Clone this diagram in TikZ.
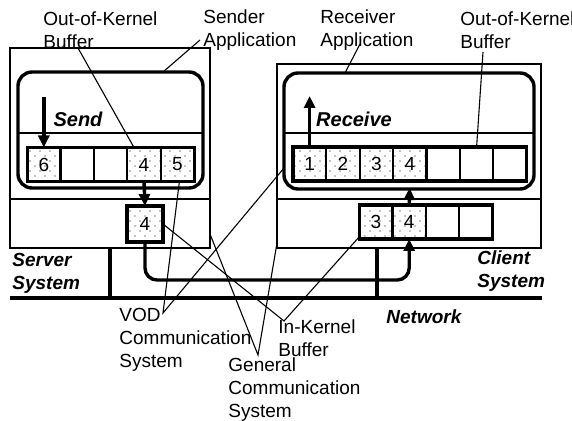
\documentclass[tikz,border=0pt]{standalone}
\usepackage{fontspec}
\setmainfont{Liberation Sans}
\usetikzlibrary{arrows.meta,positioning,fit,patterns}
\pgfdeclarepatternformonly{sparsedots}{\pgfqpoint{-1pt}{-1pt}}{\pgfqpoint{4pt}{4pt}}{\pgfqpoint{5pt}{5pt}}{%
  \pgfpathcircle{\pgfqpoint{0pt}{0pt}}{.35pt}%
  \pgfpathcircle{\pgfqpoint{2.5pt}{2.5pt}}{.35pt}%
  \pgfusepath{fill}}
\begin{document}
\begin{tikzpicture}[x=0.5pt,y=-0.5pt,
  font=\fontsize{9.5}{11.5}\selectfont, >={Triangle[length=6pt,width=5.5pt]},
  cell/.style={draw,line width=1.1pt,minimum width=16.7pt,minimum height=17pt,inner sep=0pt,outer sep=0pt},
  dcell/.style={cell,pattern=sparsedots},
  row/.style={draw,line width=1.6pt,inner sep=0pt,outer sep=0pt},
  frame/.style={draw,line width=1.4pt}, appbox/.style={draw,line width=1.7pt,rounded corners=7pt},
  flow/.style={->,line width=1.7pt}, wire/.style={line width=1.7pt},
  lead/.style={line width=0.55pt},
  lbl/.style={align=left,anchor=west,inner sep=0pt},
  sys/.style={lbl,font=\fontsize{9.5}{11.5}\selectfont\bfseries\itshape}]
\useasboundingbox (0,0) rectangle (572,421);
% server system
\draw[frame] (10,48) rectangle (210,248);
\draw[frame] (10,199) -- (210,199);
\draw[appbox] (18,72) rectangle (203,188);
\draw[frame] (18,133) -- (203,133);
\node[dcell] (s1) at (43.8,164.5) {6};
\node[cell,right=0pt of s1] (s2) {};
\node[cell,right=0pt of s2] (s3) {};
\node[dcell,right=0pt of s3] (s4) {4};
\node[dcell,right=0pt of s4] (s5) {5};
\node[row,fit=(s1)(s5)] (sbuf) {};
\node[dcell,line width=1.8pt,minimum width=18pt,minimum height=18pt] (sk) at (145,224) {4};
% client system
\draw[frame] (277,64) rectangle (541,248);
\draw[frame] (277,199) -- (541,199);
\draw[appbox] (284,73) rectangle (534,189);
\draw[frame] (284,133) -- (534,133);
\node[dcell] (c1) at (309.6,164) {1};
\node[dcell,right=0pt of c1] (c2) {2};
\node[dcell,right=0pt of c2] (c3) {3};
\node[dcell,right=0pt of c3] (c4) {4};
\node[cell,right=0pt of c4] (c5) {};
\node[cell,right=0pt of c5] (c6) {};
\node[cell,right=0pt of c6] (c7) {};
\node[row,fit=(c1)(c7)] (cbuf) {};
\node[dcell] (k1) at (375.8,222) {3};
\node[dcell,right=0pt of k1] (k2) {4};
\node[cell,right=0pt of k2] (k3) {};
\node[cell,right=0pt of k3] (k4) {};
\node[row,fit=(k1)(k4)] (kbuf) {};
% network
\coordinate (netL) at (10,298); \coordinate (netR) at (542,298);
\coordinate (sendtop) at (43.8,97); \coordinate (recvtop) at (309.6,96);
\draw[line width=2.2pt] (netL) -- (netR);
\draw[wire] (110,248) -- (110,298);
\draw[wire] (377,248) -- (377,298);
\draw[flow] (sendtop) -- (s1.north);
\draw[flow] (c1.north) -- (recvtop);
\draw[flow] (s4.south) -- (sk.north);
\draw[flow,rounded corners=6pt] (sk.south) -- ++(0,38) -| (k2.south);
\draw[flow,shorten >=3.5pt] (k2.north) -- (c4.south);
\node[font=\bfseries\itshape] (send) at (78,119) {Send};
\node[font=\bfseries\itshape] (recv) at (354,119) {Receive};
% labels
\node[lbl] (okbL) at (43,30) {Out-of-Kernel\\Buffer};
\node[lbl] (sapp) at (203,30) {Sender\\Application};
\node[lbl] (rapp) at (320,30) {Receiver\\Application};
\node[lbl] (okbR) at (460,30) {Out-of-Kernel\\Buffer};
\node[sys] (srv) at (12,273) {Server\\System};
\node[sys] (cli) at (477,271) {Client\\System};
\node[sys] (net) at (386,317) {Network};
\node[lbl] (vod) at (119,340) {VOD\\Communication\\System};
\node[lbl] (ikb) at (278,338) {In-Kernel\\Buffer};
\node[lbl] (gcs) at (228,390) {General\\Communication\\System};
% leaders
\coordinate (okbLp) at (78,48); \coordinate (sappp) at (200,40);
\coordinate (rappp) at (360,44); \coordinate (okbRp) at (483,52);
\coordinate (vodp) at (163,313); \coordinate (ikbp) at (284,321);
\coordinate (gcsp) at (258,355);
\draw[lead] (okbLp) -- ([xshift=-5pt]s4.north);
\draw[lead] (sappp) -- (163,72);
\draw[lead] (rappp) -- (345,73);
\draw[lead] (okbRp) -- (c6.north);
\draw[lead] ([xshift=1pt]s5.south) -- (vodp) -- (284,168);
\draw[lead] (sk.east) -- (ikbp) -- ([yshift=1pt]k1.south west);
\draw[lead] (210,234) -- (gcsp) -- (277,243);
\end{tikzpicture}
\end{document}
